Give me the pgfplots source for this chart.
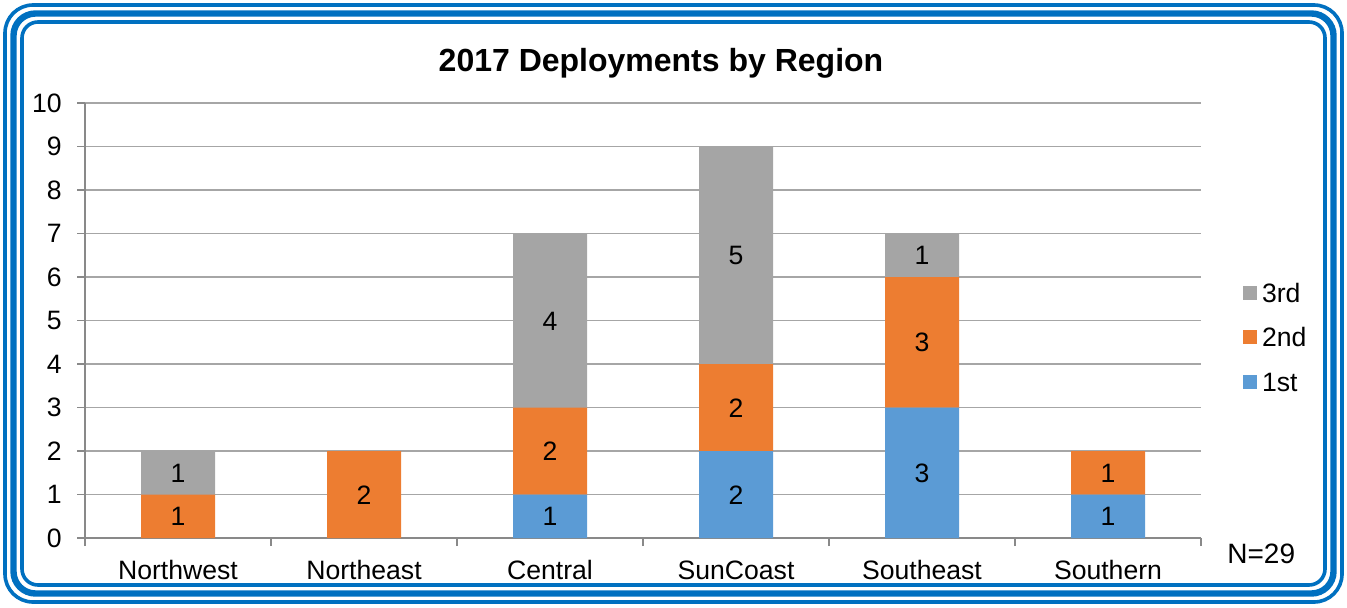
\documentclass[border=0pt]{standalone}
\usepackage{fontspec}
\setmainfont{Liberation Sans}
\usepackage{pgfplots}
\pgfplotsset{compat=1.18}
\definecolor{cBlue}{HTML}{5B9BD5}
\definecolor{cOrange}{HTML}{ED7D31}
\definecolor{cGray}{HTML}{A5A5A5}
\definecolor{cBorder}{HTML}{0070C0}
\definecolor{cGrid}{HTML}{A6A6A6}
\definecolor{cAxis}{HTML}{898989}
\newcommand\tfont{\fontsize{13.3}{16}\selectfont}
\pgfplotsset{
  base/.style={
    at={(42.5pt,34.5pt)}, anchor=south west,
    scale only axis, width=558pt, height=217.5pt,
    xmin=-0.5, xmax=5.5, ymin=0, ymax=10,
  }
}
\begin{document}
\begin{tikzpicture}[x=0.5pt,y=0.5pt]
\useasboundingbox (0,0) rectangle (1347,607);
% triple rounded border
\draw[cBorder, line width=1.8pt, rounded corners=14pt] (5,5) rectangle (1342,602);
\draw[cBorder, line width=3.2pt, rounded corners=11pt] (13.5,13.5) rectangle (1333.5,593.5);
\draw[cBorder, line width=1.8pt, rounded corners=8pt] (22,22) rectangle (1325,585);
% title
\node[font=\fontsize{16}{19}\selectfont\bfseries, text height=11.5pt, text depth=0pt, inner sep=0pt, anchor=center] at (661,547) {2017 Deployments by Region};
\begin{axis}[
  base,
  ybar stacked, bar width=37pt,
  xtick={0,...,5},
  xticklabels={Northwest,Northeast,Central,SunCoast,Southeast,Southern},
  minor xtick={-0.5,0.5,...,5.5},
  ytick={0,...,10},
  ymajorgrids, grid style={cGrid, line width=0.6pt},
  axis x line*=bottom, axis y line*=left,
  axis line style={cAxis, line width=0.7pt},
  tick align=outside,
  major tick length=4pt, minor tick length=4pt,
  every major x tick/.append style={draw=none},
  every minor x tick/.append style={cAxis, line width=0.7pt},
  every major y tick/.append style={cAxis, line width=0.7pt},
  /pgf/number format/assume math mode=true,
  ticklabel style={font=\tfont, text=black},
  xticklabel style={anchor=north, inner sep=0pt, text height=9.5pt, text depth=0pt, yshift=-7.25pt},
  yticklabel style={anchor=east, inner sep=0pt, xshift=-7.5pt},
  legend image code/.code={\fill[#1] (0pt,-3.5pt) rectangle (7pt,3.5pt);},
  reverse legend,
  legend cell align=left,
  legend style={draw=none, fill=none, at={(1,0.462)}, anchor=west, xshift=21pt,
    inner sep=0pt, outer sep=0pt, row sep=12.75pt, column sep=2.5pt,
    nodes={inner sep=0pt, text height=9.5pt, text depth=0pt, font=\tfont}},
]
\addplot[fill=cBlue, draw=none] coordinates {(0,0) (1,0) (2,1) (3,2) (4,3) (5,1)};
\addplot[fill=cOrange, draw=none] coordinates {(0,1) (1,2) (2,2) (3,2) (4,3) (5,1)};
\addplot[fill=cGray, draw=none] coordinates {(0,1) (1,0) (2,4) (3,5) (4,1) (5,0)};
\legend{1st,2nd,3rd}
\end{axis}
% value labels, centred in each segment
\begin{axis}[
  base, hide axis,
  point meta=explicit symbolic,
  nodes near coords,
  every node near coord/.append style={font=\tfont, text=black, anchor=center, inner sep=0pt, text height=9.5pt, text depth=0pt},
]
\addplot[only marks, mark=none] coordinates {
  (2,0.5) [1] (3,1) [2] (4,1.5) [3] (5,0.5) [1]
};
\addplot[only marks, mark=none] coordinates {
  (0,0.5) [1] (1,1) [2] (2,2) [2] (3,3) [2] (4,4.5) [3] (5,1.5) [1]
};
\addplot[only marks, mark=none] coordinates {
  (0,1.5) [1] (2,5) [4] (3,6.5) [5] (4,6.5) [1]
};
\end{axis}
\node[anchor=west, inner sep=0pt, text height=10pt, text depth=0pt, font=\fontsize{14}{17}\selectfont] at (1227,54) {N=29};
\end{tikzpicture}
\end{document}
